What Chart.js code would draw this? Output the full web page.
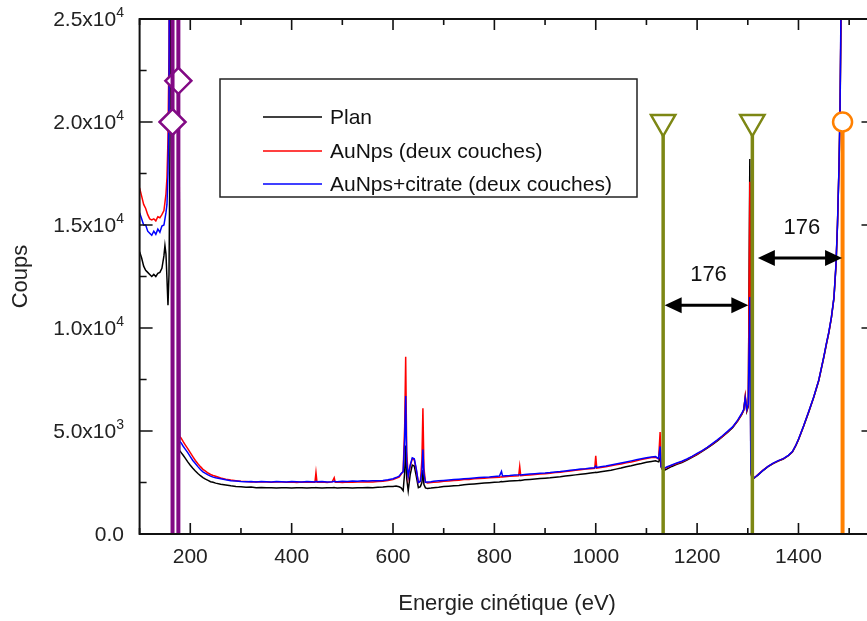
<!DOCTYPE html>
<html>
<head>
<meta charset="utf-8">
<script src="https://cdn.jsdelivr.net/npm/chart.js@4.4.1/dist/chart.umd.min.js"></script>
<style>
    html, body { margin: 0; padding: 0; background: #fff; overflow: hidden; }
    #wrap { width: 891px; height: 621px; }
</style>
</head>
<body>
<div id="wrap"><canvas id="chart" width="891" height="621"></canvas></div>
<script>
'use strict';

const FONT = '"Liberation Sans", Arial, sans-serif';

// kinetic energy (eV), shared by the three spectra
const energies = [
    100, 104, 108, 112, 116, 120, 124, 128, 132, 136,
    140, 144, 148, 150, 152, 154, 156, 158, 160, 162,
    170, 177, 179, 182, 186, 190, 195, 200, 205, 210,
    215, 220, 225, 230, 235, 240, 245, 250, 260, 270,
    280, 290, 300, 310, 320, 330, 340, 350, 360, 370,
    380, 390, 400, 410, 420, 430, 440, 446, 448, 450,
    460, 470, 480, 484, 486, 490, 500, 510, 520, 530,
    540, 550, 560, 570, 580, 590, 600, 606, 612, 616,
    620, 623, 625, 627, 630, 634, 638, 642, 646, 650,
    654, 657, 659, 661, 664, 668, 675, 680, 690, 700,
    710, 720, 730, 740, 750, 760, 770, 780, 790, 800,
    810, 814, 816, 830, 840, 848, 850, 852, 860, 870,
    880, 890, 900, 910, 920, 930, 940, 950, 960, 970,
    980, 990, 998, 1000, 1002, 1010, 1020, 1030, 1040, 1050,
    1060, 1070, 1080, 1090, 1100, 1110, 1118, 1124, 1127, 1129,
    1131, 1136, 1140, 1150, 1160, 1170, 1180, 1190, 1200, 1210,
    1220, 1230, 1240, 1250, 1260, 1270, 1280, 1288, 1292, 1295,
    1298, 1301, 1304, 1306, 1308, 1312, 1316, 1320, 1330, 1340,
    1350, 1360, 1370, 1380, 1388, 1395, 1400, 1410, 1420, 1430,
    1440, 1450, 1455, 1460, 1465, 1470, 1474, 1477, 1480, 1482,
    1484, 1486
];

const planCounts = [
    13700, 13400, 13000, 12800, 12700, 12600, 12500, 12600, 12500, 12650,
    12700, 12900, 13500, 14000, 13600, 12400, 11100, 12600, 19000, 40000,
    40000, 40000, 4050, 3950, 3820, 3680, 3500, 3340, 3190, 3060,
    2940, 2830, 2740, 2660, 2600, 2540, 2510, 2470, 2420, 2380,
    2340, 2310, 2290, 2270, 2280, 2250, 2260, 2240, 2250, 2230,
    2250, 2240, 2230, 2250, 2240, 2230, 2250, 2240, 2260, 2240,
    2230, 2250, 2240, 2260, 2240, 2230, 2250, 2240, 2230, 2250,
    2240, 2260, 2250, 2270, 2280, 2300, 2310, 2330, 2290, 2240,
    2100, 3000, 4300, 2700, 2100, 2900, 3350, 3300, 2800, 2250,
    2300, 2500, 3100, 2400, 2240, 2210, 2230, 2250, 2270, 2300,
    2320, 2340, 2360, 2390, 2410, 2430, 2450, 2470, 2490, 2510,
    2530, 2550, 2540, 2570, 2590, 2600, 2610, 2600, 2630, 2650,
    2670, 2690, 2710, 2730, 2760, 2780, 2810, 2840, 2870, 2900,
    2930, 2960, 2980, 3000, 2990, 3020, 3060, 3100, 3150, 3200,
    3260, 3310, 3370, 3420, 3480, 3520, 3550, 3500, 3700, 3250,
    3150, 3100, 3150, 3280, 3380, 3470, 3590, 3720, 3860, 4010,
    4170, 4340, 4520, 4720, 4930, 5160, 5480, 5800, 6000, 6650,
    5950, 6200, 18200, 3000, 2750, 2700, 2780, 2860, 3080, 3270,
    3420, 3540, 3640, 3800, 3980, 4300, 4580, 5220, 5900, 6620,
    7440, 8580, 9200, 9780, 10500, 11450, 13000, 15000, 17800, 20500,
    25000, 40000
];

const auNpsCounts = [
    16800, 16400, 16000, 15800, 15500, 15300, 15250, 15300, 15200, 15400,
    15350, 15500, 15700, 16100, 16500, 17300, 19200, 23500, 40000, 40000,
    40000, 40000, 4750, 4650, 4480, 4330, 4140, 3950, 3760, 3570,
    3410, 3270, 3140, 3050, 2960, 2890, 2840, 2800, 2720, 2660,
    2620, 2590, 2560, 2550, 2530, 2540, 2520, 2530, 2510, 2520,
    2530, 2510, 2520, 2500, 2520, 2510, 2530, 2520, 2990, 2510,
    2520, 2500, 2530, 2730, 2510, 2520, 2500, 2520, 2510, 2530,
    2520, 2540, 2530, 2550, 2560, 2600, 2640, 2700, 2760, 2900,
    3050, 5200, 8600, 4000, 2750, 3300, 3650, 3600, 3100, 2500,
    2550, 3600, 6100, 3200, 2520, 2480, 2500, 2510, 2530, 2560,
    2570, 2600, 2610, 2640, 2650, 2680, 2690, 2710, 2730, 2740,
    2760, 2780, 2770, 2800, 2810, 2830, 3280, 2830, 2850, 2870,
    2890, 2910, 2930, 2950, 2980, 3000, 3030, 3060, 3090, 3120,
    3150, 3170, 3190, 3800, 3200, 3230, 3270, 3310, 3360, 3400,
    3460, 3500, 3560, 3610, 3660, 3710, 3730, 3640, 4950, 3300,
    3200, 3180, 3220, 3330, 3420, 3510, 3620, 3750, 3880, 4030,
    4190, 4360, 4550, 4740, 4950, 5180, 5500, 5820, 6020, 6700,
    6000, 6250, 17100, 3100, 2780, 2730, 2800, 2880, 3100, 3280,
    3430, 3550, 3650, 3810, 3990, 4310, 4590, 5230, 5920, 6640,
    7460, 8600, 9220, 9800, 10520, 11470, 13050, 15050, 17850, 20550,
    25500, 40000
];

const citrateCounts = [
    15600, 15300, 15000, 15000, 14700, 14600, 14500, 14700, 14550, 14800,
    14650, 14950, 15000, 15300, 15600, 16000, 17500, 21000, 40000, 40000,
    40000, 40000, 4500, 4420, 4260, 4120, 3950, 3760, 3570, 3420,
    3270, 3130, 3020, 2940, 2870, 2810, 2760, 2730, 2680, 2630,
    2590, 2570, 2550, 2540, 2550, 2530, 2550, 2540, 2530, 2550,
    2540, 2530, 2550, 2540, 2530, 2550, 2540, 2530, 2560, 2540,
    2550, 2530, 2540, 2560, 2550, 2540, 2560, 2550, 2570, 2560,
    2580, 2570, 2590, 2580, 2600, 2630, 2680, 2740, 2810, 2940,
    3020, 4600, 6700, 3500, 2800, 3350, 3700, 3650, 3150, 2500,
    2560, 3000, 4100, 2900, 2510, 2520, 2540, 2560, 2580, 2600,
    2620, 2640, 2660, 2680, 2700, 2720, 2740, 2760, 2770, 2790,
    2810, 3040, 2820, 2840, 2860, 2870, 2880, 2870, 2890, 2910,
    2930, 2950, 2960, 2980, 3010, 3030, 3060, 3090, 3120, 3150,
    3170, 3200, 3220, 3300, 3230, 3260, 3300, 3350, 3400, 3450,
    3500, 3550, 3600, 3650, 3700, 3740, 3760, 3660, 4250, 3280,
    3220, 3200, 3250, 3350, 3450, 3530, 3640, 3770, 3910, 4050,
    4210, 4390, 4570, 4770, 4980, 5200, 5530, 5850, 6050, 6600,
    6050, 6300, 11500, 3050, 2760, 2720, 2790, 2870, 3090, 3280,
    3440, 3560, 3660, 3820, 4000, 4320, 4600, 5240, 5930, 6650,
    7470, 8610, 9240, 9820, 10540, 11490, 13100, 15100, 17900, 20600,
    26000, 40000
];

// reference lines and their markers
const purpleLines = [165, 176.5];
const purpleMarkerCounts = [20000, 22000];
const oliveLines = [1133, 1309];
const orangeLine = 1487;
const markerCounts = 20000;
const lineTopCounts = 25000;

// double arrows between the reference lines
const arrowFrom = [1133, 1309];
const arrowTo = [1309, 1487];
const arrowCounts = [11100, 13400];
const arrowLabels = ['176', '176'];

// axes
const xTickValues = [200, 400, 600, 800, 1000, 1200, 1400];
const yTickValues = [0, 5000, 10000, 15000, 20000, 25000];
const yTickMantissa = ['0.0', '5.0x10', '1.0x10', '1.5x10', '2.0x10', '2.5x10'];
const yTickExponent = ['', '3', '4', '4', '4', '4'];

const PURPLE = '#820a84';
const OLIVE = '#7d8714';
const ORANGE = '#ff8000';

function toPoints(counts) {
    return energies.map((e, i) => ({ x: e, y: counts[i] }));
}

const datasets = [];
purpleLines.forEach((e, i) => {
    datasets.push({
        data: [{ x: e, y: 0 }, { x: e, y: purpleMarkerCounts[i] }, { x: e, y: lineTopCounts }],
        borderColor: PURPLE, borderWidth: 4,
        pointRadius: [0, 13, 0], pointStyle: 'rectRot',
        pointBorderColor: PURPLE, pointBackgroundColor: '#fff', pointBorderWidth: 2.5,
        order: 0, isMarker: true,
    });
});
oliveLines.forEach(e => {
    datasets.push({
        data: [{ x: e, y: 0 }, { x: e, y: markerCounts }],
        borderColor: OLIVE, borderWidth: 3.5,
        pointRadius: [0, 14], pointStyle: 'triangle', pointRotation: 180,
        pointBorderColor: OLIVE, pointBackgroundColor: '#fff', pointBorderWidth: 2.5,
        order: 0, isMarker: true,
    });
});
datasets.push({
    data: [{ x: orangeLine, y: 0 }, { x: orangeLine, y: markerCounts }],
    borderColor: ORANGE, borderWidth: 4,
    pointRadius: [0, 9.5], pointStyle: 'circle',
    pointBorderColor: ORANGE, pointBackgroundColor: '#fff', pointBorderWidth: 2.5,
    order: 0, isMarker: true,
});
datasets.push({ label: 'AuNps+citrate (deux couches)', data: toPoints(citrateCounts), borderColor: '#0000ff', borderWidth: 1.5, order: 1 });
datasets.push({ label: 'AuNps (deux couches)', data: toPoints(auNpsCounts), borderColor: '#ff0000', borderWidth: 1.5, order: 2 });
datasets.push({ label: 'Plan', data: toPoints(planCounts), borderColor: '#000000', borderWidth: 1.5, order: 3 });

// frame with inward ticks on all four sides
const frameTicks = {
    id: 'frameTicks',
    afterDatasetsDraw(chart) {
        const { ctx, chartArea: a, scales: { x, y } } = chart;
        ctx.save();
        ctx.strokeStyle = '#111';
        ctx.lineWidth = 1.6;
        ctx.beginPath();
        for (let v = 100; v <= 1500; v += 100) {
            const px = x.getPixelForValue(v);
            const len = v % 200 === 0 ? 11 : 6;
            ctx.moveTo(px, a.bottom); ctx.lineTo(px, a.bottom - len);
            ctx.moveTo(px, a.top); ctx.lineTo(px, a.top + len);
        }
        for (let v = 0; v <= 25000; v += 2500) {
            const py = y.getPixelForValue(v);
            const len = v % 5000 === 0 ? 13 : 7;
            ctx.moveTo(a.left, py); ctx.lineTo(a.left + len, py);
            ctx.moveTo(a.right, py); ctx.lineTo(a.right - len, py);
        }
        ctx.stroke();
        ctx.lineWidth = 2;
        ctx.strokeRect(a.left, a.top, a.right - a.left, a.bottom - a.top);
        ctx.restore();
    }
};

// y tick labels written as mantissa x 10 with a raised exponent
const yLabels = {
    id: 'yLabels',
    afterDraw(chart) {
        const { ctx, scales: { y } } = chart;
        const right = 124;
        ctx.save();
        ctx.fillStyle = '#222';
        yTickValues.forEach((v, i) => {
            const py = y.getPixelForValue(v);
            ctx.font = '14px ' + FONT;
            const expW = yTickExponent[i] ? ctx.measureText(yTickExponent[i]).width : 0;
            ctx.textBaseline = 'alphabetic';
            ctx.textAlign = 'left';
            if (expW) ctx.fillText(yTickExponent[i], right - expW, py - 2);
            ctx.font = '21px ' + FONT;
            ctx.textAlign = 'right';
            ctx.fillText(yTickMantissa[i], right - expW, py + 7);
        });
        ctx.restore();
    }
};

const legendBox = {
    id: 'legendBox',
    afterDraw(chart) {
        const { ctx } = chart;
        const box = { left: 220, top: 79, right: 637, bottom: 197 };
        const rows = [117, 151, 184];
        const entries = chart.data.datasets.filter(d => !d.isMarker).reverse();
        ctx.save();
        ctx.fillStyle = '#fff';
        ctx.fillRect(box.left, box.top, box.right - box.left, box.bottom - box.top);
        ctx.strokeStyle = '#222';
        ctx.lineWidth = 1.5;
        ctx.strokeRect(box.left, box.top, box.right - box.left, box.bottom - box.top);
        ctx.font = '21px ' + FONT;
        ctx.textBaseline = 'middle';
        ctx.textAlign = 'left';
        entries.forEach((d, i) => {
            ctx.strokeStyle = d.borderColor;
            ctx.lineWidth = 1.3;
            ctx.beginPath();
            ctx.moveTo(263, rows[i]); ctx.lineTo(322, rows[i]);
            ctx.stroke();
            ctx.fillStyle = '#111';
            ctx.fillText(d.label, 330, rows[i] + 1);
        });
        ctx.restore();
    }
};

const arrows = {
    id: 'arrows',
    afterDraw(chart) {
        const { ctx, scales: { x, y } } = chart;
        const head = 17, half = 8;
        ctx.save();
        ctx.fillStyle = '#000';
        ctx.strokeStyle = '#000';
        arrowFrom.forEach((e, i) => {
            const x1 = x.getPixelForValue(e) + (i === 0 ? 1.5 : 5.5);
            const x2 = x.getPixelForValue(arrowTo[i]) - (i === 0 ? 4 : 0.5);
            const py = y.getPixelForValue(arrowCounts[i]);
            ctx.lineWidth = 3;
            ctx.beginPath();
            ctx.moveTo(x1 + head - 2, py); ctx.lineTo(x2 - head + 2, py);
            ctx.stroke();
            ctx.beginPath();
            ctx.moveTo(x1, py); ctx.lineTo(x1 + head, py - half); ctx.lineTo(x1 + head, py + half);
            ctx.closePath();
            ctx.moveTo(x2, py); ctx.lineTo(x2 - head, py - half); ctx.lineTo(x2 - head, py + half);
            ctx.closePath();
            ctx.fill();
            ctx.font = '22px ' + FONT;
            ctx.textAlign = 'center';
            ctx.textBaseline = 'middle';
            ctx.fillStyle = '#111';
            ctx.fillText(arrowLabels[i], (x1 + x2) / 2 + 2, py - 30);
            ctx.fillStyle = '#000';
        });
        ctx.restore();
    }
};

new Chart(document.getElementById('chart'), {
    type: 'line',
    data: { datasets },
    options: {
        responsive: false,
        animation: false,
        layout: { padding: { top: 19, right: 6, left: 0, bottom: 0 } },
        plugins: { legend: { display: false }, tooltip: { enabled: false } },
        elements: { point: { radius: 0 }, line: { tension: 0 } },
        scales: {
            x: {
                type: 'linear', min: 100, max: 1550,
                afterBuildTicks: s => { s.ticks = xTickValues.map(v => ({ value: v })); },
                afterFit: s => { s.height = 87; },
                grid: { display: false },
                border: { display: false },
                ticks: {
                    font: { family: FONT, size: 21 }, color: '#222', padding: 3,
                    maxRotation: 0, autoSkip: false, callback: v => String(v),
                },
                title: {
                    display: true, text: 'Energie cinétique (eV)', color: '#222',
                    font: { family: FONT, size: 22 }, padding: { top: 0, bottom: 4 },
                },
            },
            y: {
                type: 'linear', min: 0, max: 25000,
                afterFit: s => { s.width = 139.6; },
                grid: { display: false },
                border: { display: false },
                ticks: { display: false },
                title: {
                    display: true, text: 'Coups', color: '#222',
                    font: { family: FONT, size: 22 }, padding: { top: 8, bottom: 0 },
                },
            },
        },
    },
    plugins: [frameTicks, yLabels, legendBox, arrows],
});
</script>
</body>
</html>
